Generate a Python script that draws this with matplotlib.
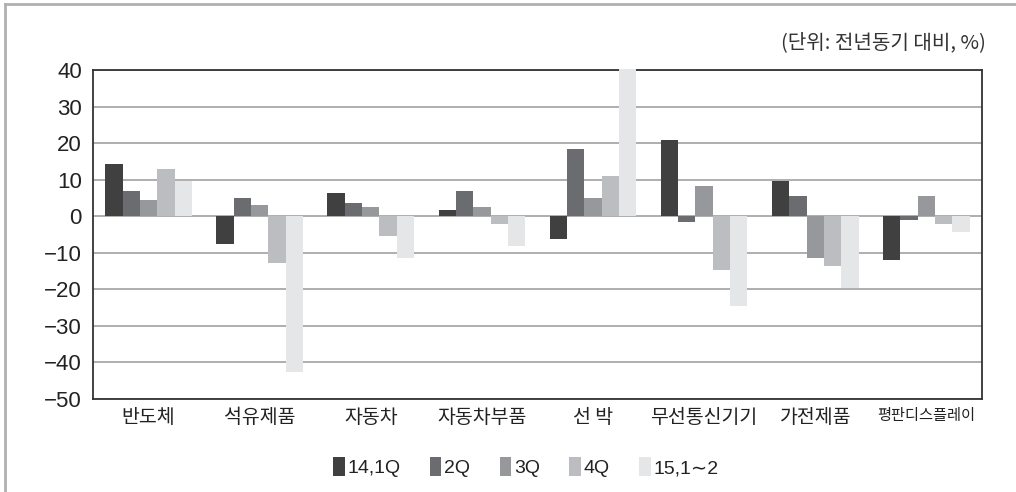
import matplotlib
matplotlib.use("Agg")
import matplotlib.pyplot as plt
import numpy as np
from matplotlib.lines import Line2D

categories = ["반도체", "석유제품", "자동차", "자동차부품", "선 박", "무선통신기기", "가전제품", "평판디스플레이"]
series_names = ["14,1Q", "2Q", "3Q", "4Q", "15,1∼2"]
q1_14 = [14.3, -7.5, 6.4, 1.7, -6.2, 20.8, 9.6, -12.1]
q2_14 = [7.0, 5.1, 3.7, 7.0, 18.3, -1.5, 5.6, -0.9]
q3_14 = [4.4, 3.1, 2.4, 2.5, 5.1, 8.3, -11.5, 5.6]
q4_14 = [13.0, -12.7, -5.5, -2.2, 11.0, -14.7, -13.5, -2.2]
jan_feb_15 = [9.6, -42.5, -11.5, -8.2, 40.4, -24.6, -19.5, -4.2]
y_ticks = [40, 30, 20, 10, 0, -10, -20, -30, -40, -50]
unit_note = "(단위: 전년동기 대비, %)"

series = [q1_14, q2_14, q3_14, q4_14, jan_feb_15]
colors = ["#404040", "#6b6c70", "#97989b", "#bcbdc0", "#e5e6e8"]

KR = ["Noto Sans CJK KR", "DejaVu Sans"]
NUM = ["Liberation Sans Narrow", "Liberation Sans", "DejaVu Sans"]

fig = plt.figure(figsize=(10.16, 4.92), dpi=100)
ax = fig.add_axes([0.0915, 0.189, 0.875, 0.6687])

x = np.arange(len(categories))
bw = 0.156
for i, (vals, c, name) in enumerate(zip(series, colors, series_names)):
    offs = (i - 2) * bw
    ax.bar(x + offs, vals, width=bw, color=c, label=name, zorder=3,
           linewidth=0, clip_on=False)

ax.set_xlim(-0.5, len(categories) - 0.5)
ax.set_ylim(-50, 40)
ax.set_yticks(y_ticks)
ax.set_yticklabels([str(t).replace("-", "\u2212") for t in y_ticks],
                   fontsize=16, family=NUM, color="#222222")
ax.tick_params(axis="y", length=0, pad=8)
ax.set_xticks(x)
ax.set_xticklabels(categories, family=KR, fontsize=14, color="#222222")
for lab in ax.get_xticklabels():
    if lab.get_text() == "평판디스플레이":
        lab.set_fontsize(11)
ax.tick_params(axis="x", length=0, pad=6)

ax.grid(axis="y", color="#a8a8a8", linewidth=1.3, zorder=1)
for s in ax.spines.values():
    s.set_color("#333333")
    s.set_linewidth(1.3)

fig.text(0.970, 0.913, unit_note, ha="right", va="center",
         family=KR, fontsize=14.5, color="#333333")

leg = ax.legend(loc="center", bbox_to_anchor=(0.487, -0.207), ncol=5,
                frameon=False, handlelength=0.6, handleheight=1.1,
                handletextpad=0.15, columnspacing=1.5,
                prop={"family": NUM, "size": 14})
for t in leg.get_texts():
    t.set_color("#222222")

# thin frame drawn along the top and left edges of the figure
fig.add_artist(Line2D([0.005, 1.0], [0.992, 0.992], transform=fig.transFigure,
                      color="#b0b0b0", linewidth=2))
fig.add_artist(Line2D([0.005, 0.005], [0.0, 0.992], transform=fig.transFigure,
                      color="#b0b0b0", linewidth=2))

fig.savefig("out.png", dpi=100, facecolor="white")
